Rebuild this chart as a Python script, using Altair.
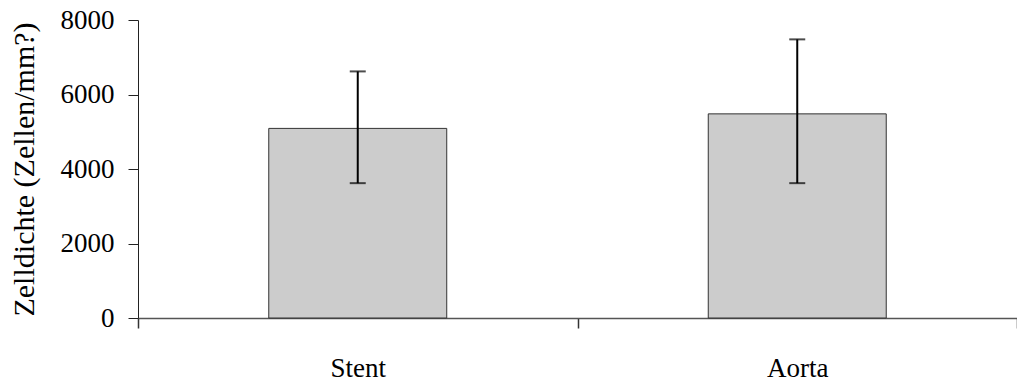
import altair as alt
import pandas as pd

categories = ["Stent", "Aorta"]
means = [5090, 5480]
err_low = [3620, 3620]
err_high = [6620, 7480]

df = pd.DataFrame({"cat": categories, "mean": means, "lo": err_low, "hi": err_high})

FONT = "Liberation Serif"
YTITLE = "Zelldichte (Zellen/mm?)"

xscale = alt.Scale(domain=categories, paddingInner=0, paddingOuter=0)
xaxis = alt.Axis(labelAngle=0, tickBand="extent", tickSize=10, labelPadding=27, grid=False,
                 domainColor="#555555", domainWidth=1.5, tickColor="#333333", tickWidth=1.5)
yscale = alt.Scale(domain=[0, 8000], nice=False)
yaxis = alt.Axis(values=[0, 2000, 4000, 6000, 8000], format="d", grid=False,
                 tickSize=10, labelPadding=14, titlePadding=21,
                 titleFont=FONT, titleFontSize=30, titleFontWeight="normal", titleColor="black",
                 domainColor="#222222", tickColor="#222222")

def xy(field):
    return dict(
        x=alt.X("cat:N", scale=xscale, sort=categories, title=None, axis=xaxis),
        y=alt.Y(field, scale=yscale, title=YTITLE, axis=yaxis),
    )

bars = alt.Chart(df).mark_bar(color="#cccccc", stroke="#333333", strokeWidth=1,
                              width={"band": 0.405}).encode(**xy("mean:Q"))

rules = alt.Chart(df).mark_rule(color="black", strokeWidth=2).encode(
    **xy("lo:Q"), y2="hi:Q")

caps_lo = alt.Chart(df).mark_tick(color="black", size=16, thickness=2).encode(**xy("lo:Q"))
caps_hi = alt.Chart(df).mark_tick(color="black", size=16, thickness=2).encode(**xy("hi:Q"))

chart = alt.layer(bars, rules, caps_lo, caps_hi).properties(
    width=879, height=298,
    background="white",
    autosize=alt.AutoSizeParams(type="none"),
    padding={"left": 138, "top": 20, "right": 0, "bottom": 67},
).configure_view(stroke=None, strokeWidth=0).configure_axis(
    grid=False, labelFont=FONT, labelFontSize=27, labelColor="black",
    titleFont=FONT, titleFontSize=30, titleFontWeight="normal", titleColor="black",
)

chart.save("out.html", embed_options={"renderer": "svg", "actions": False})
